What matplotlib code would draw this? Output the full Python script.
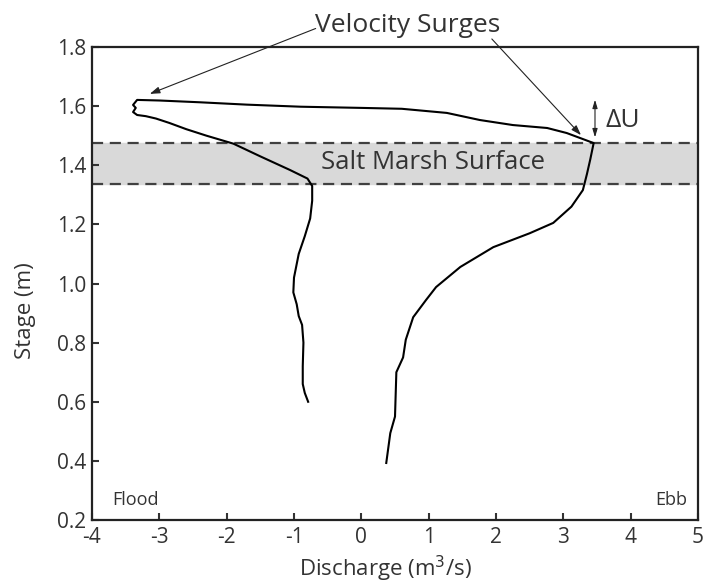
import matplotlib
matplotlib.use("Agg")
import matplotlib.pyplot as plt

plt.rcParams['font.family'] = ['Open Sans', 'DejaVu Sans']

# ---------- dados ---------- #
discharge = [-0.79, -0.84, -0.87, -0.87, -0.86, -0.88, -0.93, -0.96, -1.01, -1.00,
             -0.93, -0.84, -0.76, -0.73, -0.73, -0.80, -1.06, -1.50, -1.90, -2.30,
             -2.60, -2.85, -3.05, -3.20, -3.33, -3.39, -3.35, -3.39, -3.33, -3.00,
             -2.40, -1.70, -0.90, 0.00, 0.60, 1.27, 1.76, 2.25, 2.76, 3.05,
             3.25, 3.45, 3.40, 3.35, 3.29, 3.12, 2.85, 2.50, 1.96, 1.47,
             1.11, 0.96, 0.77, 0.66, 0.62, 0.52, 0.50, 0.43, 0.37]
stage = [0.60, 0.63, 0.66, 0.72, 0.80, 0.86, 0.89, 0.93, 0.97, 1.02,
         1.10, 1.16, 1.22, 1.28, 1.33, 1.355, 1.384, 1.43, 1.473, 1.50,
         1.522, 1.543, 1.558, 1.566, 1.57, 1.58, 1.594, 1.604, 1.621, 1.619,
         1.613, 1.605, 1.598, 1.594, 1.591, 1.577, 1.553, 1.536, 1.526, 1.509,
         1.492, 1.475, 1.42, 1.37, 1.316, 1.26, 1.205, 1.17, 1.123, 1.056,
         0.988, 0.944, 0.886, 0.81, 0.75, 0.70, 0.55, 0.494, 0.393]

marsh_bottom = 1.337
marsh_top = 1.476

x_ticks = [-4, -3, -2, -1, 0, 1, 2, 3, 4, 5]
y_ticks = [0.2, 0.4, 0.6, 0.8, 1.0, 1.2, 1.4, 1.6, 1.8]

txt = '#333333'

fig = plt.figure(figsize=(7.06, 5.83), dpi=100)
ax = fig.add_axes([0.1303, 0.108, 0.8584, 0.8114])

# faixa da superficie do marisma
ax.axhspan(marsh_bottom, marsh_top, color='#d9d9d9', zorder=0)
for yy in (marsh_bottom, marsh_top):
    ax.axhline(yy, color='#404040', lw=1.6, ls=(0, (5, 3)), zorder=1)

ax.plot(discharge, stage, color='black', lw=1.5, zorder=3)

ax.set_xlim(-4, 5)
ax.set_ylim(0.2, 1.8)
ax.set_xticks(x_ticks)
ax.set_xticklabels([str(v) for v in x_ticks])
ax.set_yticks(y_ticks)
ax.set_yticklabels([f"{v:.1f}" for v in y_ticks])
ax.tick_params(direction='in', length=5, width=1.5, labelsize=15, labelcolor=txt, colors='#333333')
ax.tick_params(axis='x', pad=5)
ax.tick_params(axis='y', pad=4)
for s in ax.spines.values():
    s.set_linewidth(1.6)
    s.set_color('#222222')

ax.set_xlabel('Discharge (m$^3$/s)', fontsize=16, color=txt)
ax.set_ylabel('Stage (m)', fontsize=16, color=txt)
ax.xaxis.set_label_coords(0.485, -0.072)
ax.yaxis.set_label_coords(-0.093, 0.442)

# anotacoes
ax.text(0.69, 1.851, 'Velocity Surges', ha='center', va='baseline', fontsize=19, color=txt, clip_on=False)
arr = dict(arrowstyle='-|>,head_length=0.6,head_width=0.2', color='#222222', lw=0.8)
ax.annotate('', xy=(-3.18, 1.638), xytext=(-0.64, 1.866), arrowprops=arr, annotation_clip=False)
ax.annotate('', xy=(3.29, 1.495), xytext=(1.91, 1.834), arrowprops=arr, annotation_clip=False)

ax.annotate('', xy=(3.47, 1.631), xytext=(3.47, 1.485),
            arrowprops=dict(arrowstyle='<|-|>,head_length=0.5,head_width=0.15', color='#222222', lw=0.8))
ax.text(3.62, 1.553, '\u0394U', ha='left', va='center', fontsize=19, color=txt)

ax.text(1.06, 1.408, 'Salt Marsh Surface', ha='center', va='center', fontsize=18.5, color=txt, zorder=4)
ax.text(-3.70, 0.268, 'Flood', ha='left', va='center', fontsize=13, color=txt)
ax.text(4.84, 0.268, 'Ebb', ha='right', va='center', fontsize=13, color=txt)

fig.savefig('out.png', dpi=100)
